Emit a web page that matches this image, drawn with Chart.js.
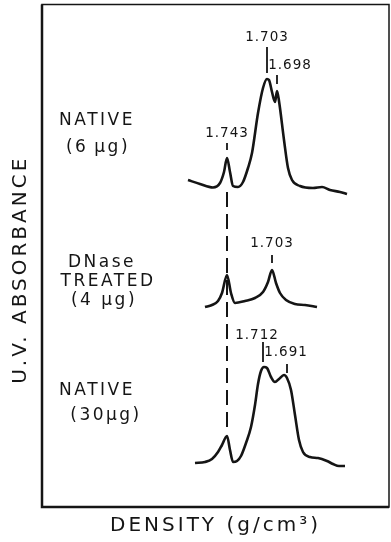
<!doctype html>
<html>
<head>
<title>CsCl density profiles</title>
<script src="https://cdn.jsdelivr.net/npm/chart.js@4.4.1/dist/chart.umd.min.js"></script>
<style>
  html, body { margin: 0; padding: 0; background: #fff; }
</style>
</head>
<body>
<canvas id="chart" width="391" height="542"></canvas>
<script>
// buoyant density (g/cm3) on x, u.v. absorbance (arbitrary units, traces stacked) on y
var native6Density = [1.782, 1.770, 1.757, 1.750, 1.746, 1.743, 1.740, 1.737, 1.732, 1.727, 1.722, 1.718, 1.712, 1.707, 1.703, 1.701, 1.698, 1.695, 1.693, 1.691, 1.686, 1.682, 1.678, 1.670, 1.657, 1.648, 1.640, 1.630, 1.623];
var native6Abs     = [65.4, 64.6, 63.9, 64.8, 67.0, 69.8, 67.0, 64.2, 64.0, 65.0, 67.8, 70.8, 78.8, 83.8, 85.6, 85.4, 83.0, 81.0, 83.2, 81.2, 73.4, 67.8, 65.4, 64.2, 63.8, 64.0, 63.4, 63.0, 62.6];

var dnaseDensity = [1.765, 1.758, 1.752, 1.748, 1.743, 1.739, 1.735, 1.725, 1.715, 1.707, 1.702, 1.698, 1.694, 1.690, 1.684, 1.675, 1.665, 1.653];
var dnaseAbs     = [40.0, 40.4, 41.2, 42.8, 46.4, 42.8, 40.8, 41.2, 41.8, 43.0, 45.0, 47.4, 44.8, 42.8, 41.4, 40.6, 40.4, 40.0];

var native30Density = [1.775, 1.765, 1.758, 1.752, 1.748, 1.743, 1.740, 1.737, 1.733, 1.729, 1.724, 1.719, 1.715, 1.712, 1.709, 1.706, 1.703, 1.699, 1.695, 1.691, 1.686, 1.683, 1.679, 1.675, 1.671, 1.667, 1.660, 1.652, 1.643, 1.637, 1.631, 1.625];
var native30Abs     = [8.8, 9.0, 9.6, 11.0, 12.4, 14.2, 11.4, 9.0, 9.2, 10.2, 12.8, 16.0, 20.4, 24.6, 27.2, 28.0, 27.8, 26.0, 25.0, 25.6, 26.4, 25.8, 23.4, 18.4, 13.4, 11.0, 10.0, 9.8, 9.2, 8.6, 8.2, 8.2];

// 1.743 reference line through all three profiles
var markerDensity = [1.743, 1.743];
var markerAbs     = [63.0, 15.0];

// peak labels: text, label position, tick position
var peakText      = ["1.703", "1.698", "1.743", "1.703", "1.712", "1.691"];
var peakTextX     = [1.703, 1.680, 1.743, 1.698, 1.713, 1.684];
var peakTextY     = [94.0, 88.4, 74.8, 52.8, 34.4, 31.0];
var peakTickX     = [1.703, 1.693, 1.743, 1.698, 1.707, 1.683];
var peakTickTop   = [92.0, 86.4, 72.8, 50.4, 33.0, 28.6];
var peakTickBot   = [86.8, 84.6, 71.4, 48.8, 29.0, 26.8];

// sample names on the left
var sampleText = ["NATIVE", "(6\u2009\u00b5g)", "DNase", "TREATED", "(4 \u00b5g)", "NATIVE", "(30\u00b5g)"];
var sampleX    = [1.873, 1.872, 1.868, 1.862, 1.866, 1.873, 1.864];
var sampleY    = [77.2, 71.8, 48.8, 45.0, 41.2, 23.2, 18.2];

var densityMin = 1.581, densityMax = 1.928;
var absMin = 0, absMax = 100.5;

function pts(xs, ys) {
  return xs.map(function(x, i) { return {x: x, y: ys[i]}; });
}

var ink = '#151515';
var datasets = [
  {data: pts(native6Density, native6Abs), borderWidth: 2.6},
  {data: pts(dnaseDensity, dnaseAbs), borderWidth: 2.6},
  {data: pts(native30Density, native30Abs), borderWidth: 2.6},
  {data: pts(markerDensity, markerAbs), borderWidth: 2, borderDash: [15, 7], cubicInterpolationMode: 'default', tension: 0}
];
peakTickX.forEach(function(x, i) {
  datasets.push({data: pts([x, x], [peakTickTop[i], peakTickBot[i]]), borderWidth: 1.8, tension: 0, cubicInterpolationMode: 'default'});
});
datasets.forEach(function(ds) {
  ds.borderColor = ink;
  ds.pointRadius = 0;
  ds.fill = false;
  if (!ds.cubicInterpolationMode) ds.cubicInterpolationMode = 'monotone';
});

var annotate = {
  id: 'annotate',
  beforeDraw: function(chart) {
    chart.ctx.letterSpacing = '3px';
  },
  afterDraw: function(chart) {
    var ctx = chart.ctx, xs = chart.scales.x, ys = chart.scales.y, a = chart.chartArea;
    ctx.save();
    ctx.strokeStyle = ink;
    ctx.lineWidth = 1.5;
    ctx.strokeRect(a.left, a.top, a.right - a.left, a.bottom - a.top);
    ctx.lineWidth = 2.5;
    ctx.beginPath();
    ctx.moveTo(a.left, a.top);
    ctx.lineTo(a.left, a.bottom);
    ctx.lineTo(a.right, a.bottom);
    ctx.stroke();

    ctx.fillStyle = ink;
    ctx.textAlign = 'center';
    ctx.textBaseline = 'middle';
    ctx.font = '13.5px "DejaVu Sans"';
    ctx.letterSpacing = '1px';
    peakText.forEach(function(t, i) {
      ctx.fillText(t, xs.getPixelForValue(peakTextX[i]), ys.getPixelForValue(peakTextY[i]));
    });
    ctx.font = '17px "DejaVu Sans"';
    ctx.letterSpacing = '2.5px';
    sampleText.forEach(function(t, i) {
      ctx.fillText(t, xs.getPixelForValue(sampleX[i]), ys.getPixelForValue(sampleY[i]));
    });
    ctx.restore();
  }
};

new Chart(document.getElementById('chart'), {
  type: 'line',
  data: {datasets: datasets},
  plugins: [annotate],
  options: {
    responsive: false,
    animation: false,
    layout: {padding: {top: 4.5, right: 2, left: 0, bottom: 0}},
    plugins: {legend: {display: false}, tooltip: {enabled: false}},
    scales: {
      x: {
        type: 'linear',
        reverse: true,
        min: densityMin,
        max: densityMax,
        grid: {display: false, drawTicks: false},
        border: {display: false},
        ticks: {display: false},
        title: {
          display: true,
          text: 'DENSITY (g/cm\u00b3)',
          color: ink,
          font: {family: 'DejaVu Sans', size: 20, lineHeight: 1.2},
          padding: {top: 7, bottom: 4}
        }
      },
      y: {
        type: 'linear',
        min: absMin,
        max: absMax,
        grid: {display: false, drawTicks: false},
        border: {display: false},
        ticks: {display: false},
        title: {
          display: true,
          // trailing spaces nudge the rotated title a little lower, as in the original
          text: 'U.V. ABSORBANCE\u00a0\u00a0\u00a0',
          color: ink,
          font: {family: 'DejaVu Sans', size: 20, lineHeight: 1.2},
          padding: {top: 9, bottom: 9}
        }
      }
    }
  }
});
</script>
</body>
</html>
